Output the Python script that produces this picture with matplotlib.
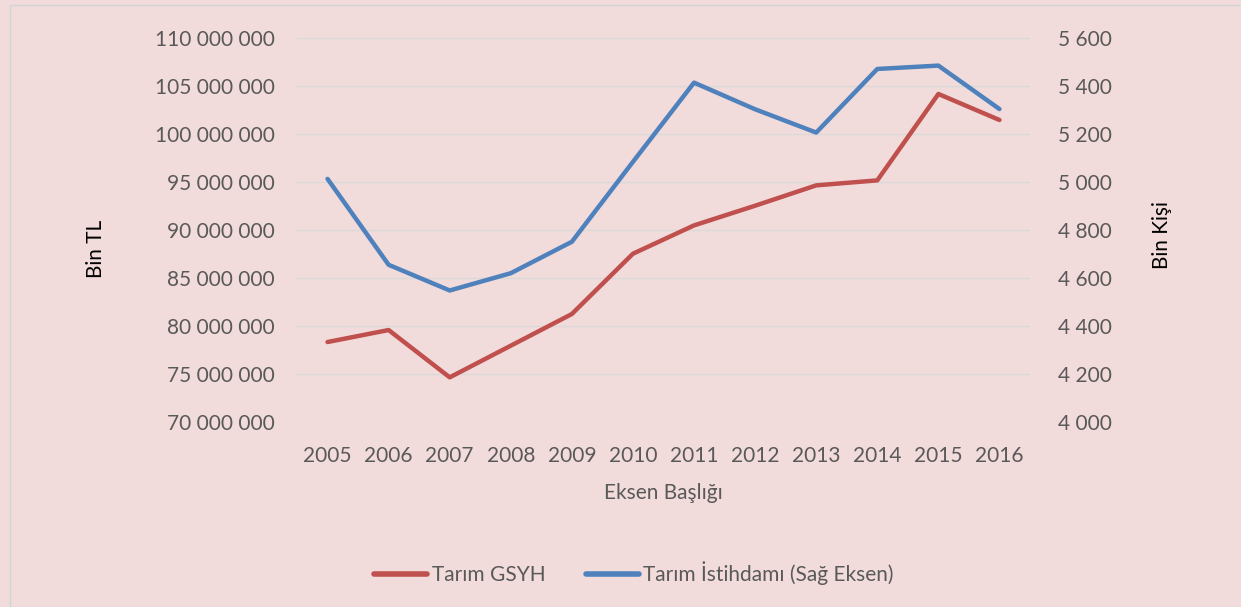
import matplotlib
matplotlib.use("Agg")
import matplotlib.pyplot as plt
from matplotlib.ticker import FuncFormatter, MultipleLocator
from matplotlib.lines import Line2D
from matplotlib.patches import Rectangle

years = ["2005", "2006", "2007", "2008", "2009", "2010", "2011", "2012", "2013", "2014", "2015", "2016"]
gsyh = [78.33e6, 79.58e6, 74.65e6, 77.95e6, 81.25e6, 87.53e6, 90.48e6, 92.53e6, 94.65e6, 95.17e6, 104.17e6, 101.46e6]
istihdam = [5013, 4655, 4548, 4620, 4751, 5084, 5414, 5303, 5206, 5471, 5485, 5304]

BG = "#F2DCDB"
RED = "#C0504D"
BLUE = "#4F81BD"
TXT = "#595959"
GRID = "#D9D9D9"
FS = 15

plt.rcParams['font.family'] = ['Lato', 'DejaVu Sans']

W, H = 1241, 607
fig = plt.figure(figsize=(W / 100, H / 100), dpi=100, facecolor=BG)
fig.patches.append(Rectangle((9.5 / W, 0), 1.2, 1 - 4.5 / H, transform=fig.transFigure,
                             fill=False, edgecolor="#D0D4D8", linewidth=1.0, zorder=0))

ax = fig.add_axes([297 / W, 1 - 422 / H, (1030 - 297) / W, (422 - 38) / H])
ax.set_facecolor(BG)
ax2 = ax.twinx()

x = list(range(len(years)))
ax.plot(x, gsyh, color=RED, linewidth=3.2, solid_capstyle='round', solid_joinstyle='round', zorder=3)
ax2.plot(x, istihdam, color=BLUE, linewidth=3.2, solid_capstyle='round', solid_joinstyle='round', zorder=3)

ax.set_xlim(-0.5, len(years) - 0.5)
ax.set_ylim(70e6, 110e6)
ax2.set_ylim(4000, 5600)
ax.yaxis.set_major_locator(MultipleLocator(5e6))
ax2.yaxis.set_major_locator(MultipleLocator(200))

def spaced(v, pos):
    return f"{int(round(v)):,}".replace(",", " ")

ax.yaxis.set_major_formatter(FuncFormatter(spaced))
ax2.yaxis.set_major_formatter(FuncFormatter(spaced))
ax.set_xticks(x)
ax.set_xticklabels(years)

ax.grid(axis='y', color=GRID, linewidth=1.0)
ax.set_axisbelow(True)
for a in (ax, ax2):
    for s in a.spines.values():
        s.set_visible(False)
    a.tick_params(length=0, labelsize=FS, labelcolor=TXT)
ax.tick_params(axis='y', pad=16)
ax2.tick_params(axis='y', which='both', pad=20)
ax.tick_params(axis='x', pad=17)

fig.text(95.5 / W, 1 - 249 / H, "Bin TL", rotation=90, ha='center', va='center', fontsize=FS, color='#000000')
fig.text(1162 / W, 1 - 235 / H, "Bin Kişi", rotation=90, ha='center', va='center', fontsize=FS, color='#000000')
fig.text(663 / W, 1 - 493 / H, "Eksen Başlığı", ha='center', va='center', fontsize=FS, color=TXT)

handles = [Line2D([], [], color=RED, linewidth=4, solid_capstyle='round'),
           Line2D([], [], color=BLUE, linewidth=4, solid_capstyle='round')]
fig.legend(handles, ["Tarım GSYH", "Tarım İstihdamı (Sağ Eksen)"], loc='center',
           bbox_to_anchor=(634 / W, 1 - 573 / H), ncol=2, frameon=False, fontsize=FS,
           labelcolor=TXT, handlelength=2.55, handletextpad=0.2, columnspacing=1.95)

fig.savefig("out.png", dpi=100, facecolor=BG)
